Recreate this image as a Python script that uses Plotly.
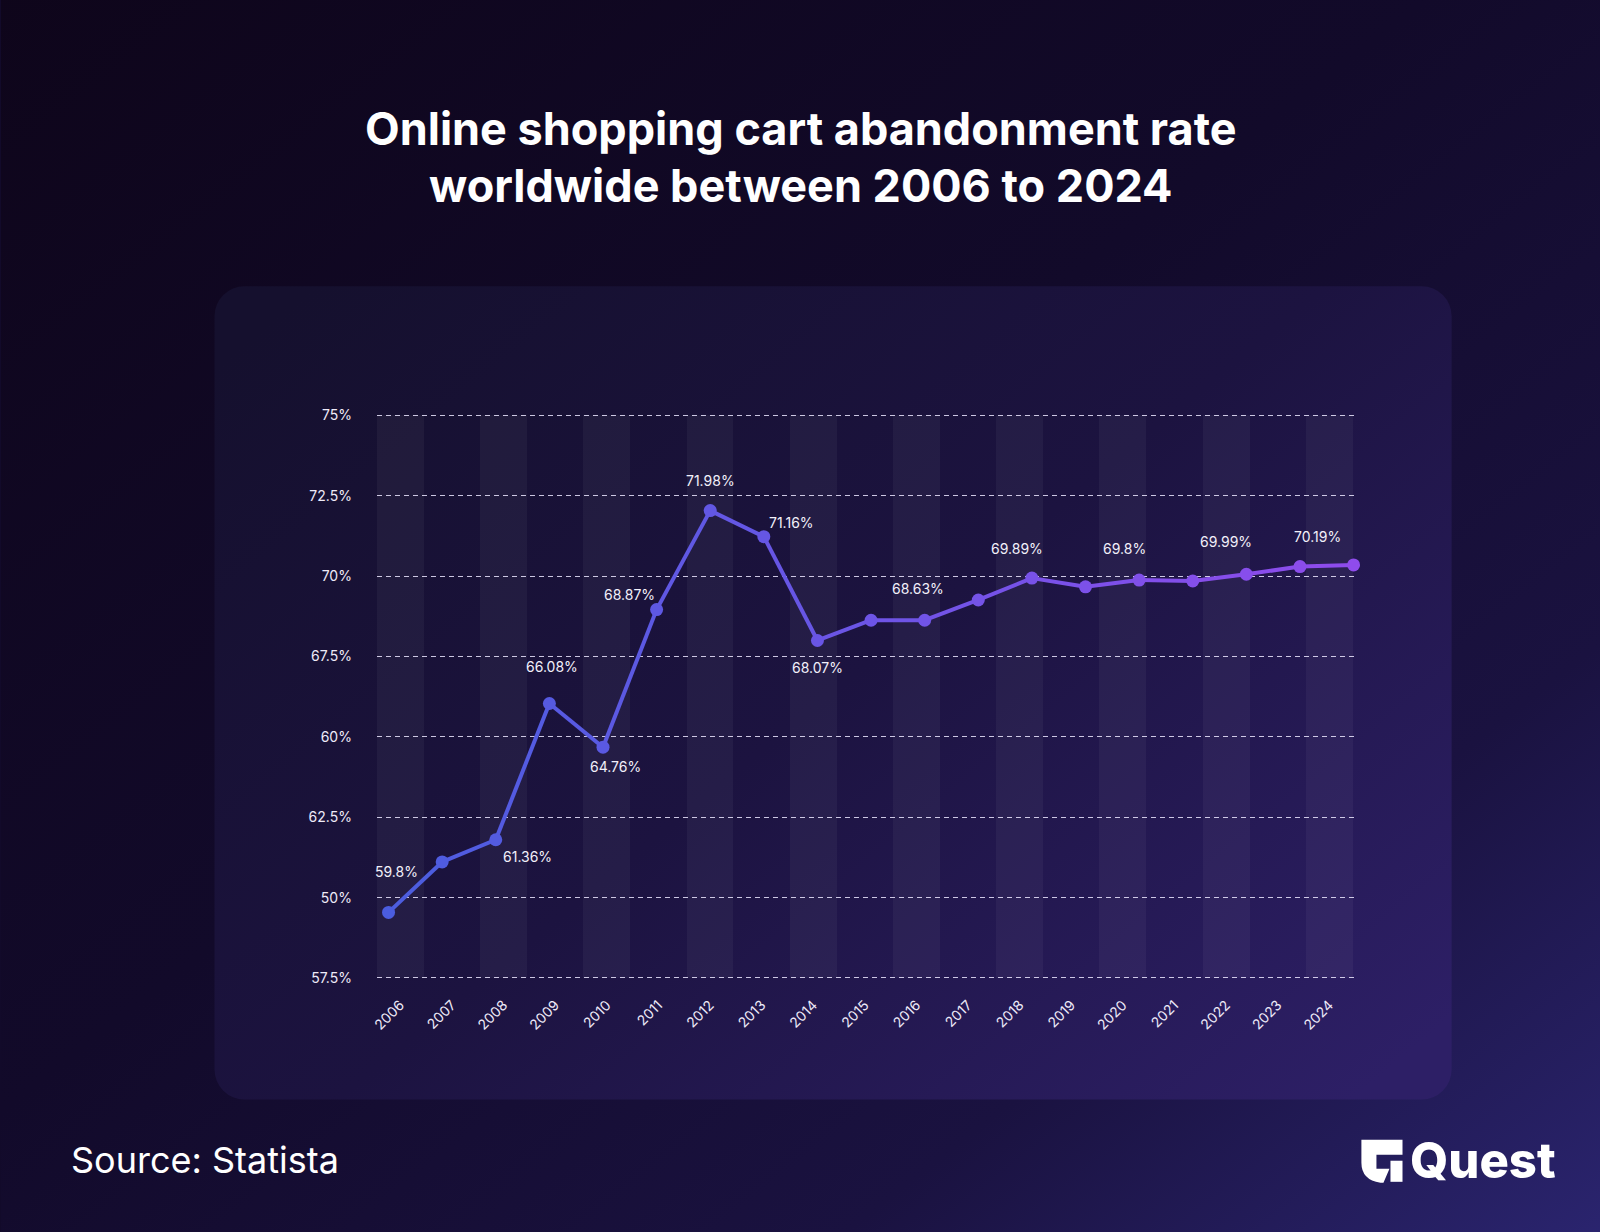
import base64
import plotly.graph_objects as go

# ---------------- data ----------------
years = list(range(2006, 2025))
values = [59.54, 61.11, 61.80, 66.04, 64.68, 68.96, 72.04, 71.23, 68.00, 68.63,
          68.63, 69.26, 69.94, 69.67, 69.88, 69.85, 70.06, 70.30, 70.35]
label_text = ["59.8%", None, "61.36%", "66.08%", "64.76%", "68.87%", "71.98%", "71.16%",
              "68.07%", None, "68.63%", None, "69.89%", None, "69.8%", None, "69.99%",
              "70.19%", None]
ytick_vals = [57.5, 60, 62.5, 65, 67.5, 70, 72.5, 75]
ytick_text = ["57.5%", "50%", "62.5%", "60%", "67.5%", "70%", "72.5%", "75%"]

# label offsets in pixels (xshift, yshift) – styling only
label_offsets = {2006: (8, 41), 2008: (32, -17), 2009: (3, 37), 2010: (12, -19),
                 2011: (-27, 15), 2012: (0, 30), 2013: (28, 14), 2014: (0, -27),
                 2016: (-7, 32), 2018: (-15, 30), 2020: (-15, 32), 2022: (-20, 33),
                 2023: (18, 30)}

W, H = 1600, 1232
FONT = "Inter"
Y_MIN, Y_MAX = 57.5, 75

# the renderer insets the paper area slightly; map page pixels to paper fractions
PAD_X, PAD_Y = 5.0, 8.0
PW, PH = W - 2 * PAD_X, H - 2 * PAD_Y


def fx(px):
    return (px - PAD_X) / PW


def fy(py):
    return 1 - (py - PAD_Y) / PH


# ---------------- colours ----------------
c_start = (75, 93, 223)
c_end = (143, 76, 236)


def mix(t):
    r, g, b = (round(a + (b_ - a) * t) for a, b_ in zip(c_start, c_end))
    return f"rgb({r},{g},{b})"


n = len(years)
pt_colors = [mix(i / (n - 1)) for i in range(n)]

# ---------------- background (decorative SVG) ----------------
svg = f'''<svg xmlns="http://www.w3.org/2000/svg" width="{W}" height="{H}" viewBox="0 0 {W} {H}" preserveAspectRatio="none">
<defs>
<linearGradient id="bg" x1="0" y1="0" x2="1" y2="1">
<stop offset="0" stop-color="#0e051a"/>
<stop offset="0.45" stop-color="#120a2a"/>
<stop offset="0.75" stop-color="#1a1240"/>
<stop offset="1" stop-color="#2c2673"/>
</linearGradient>
<linearGradient id="pn" x1="0" y1="0.1" x2="1" y2="0.9">
<stop offset="0" stop-color="#15102e"/>
<stop offset="0.5" stop-color="#1c1340"/>
<stop offset="1" stop-color="#2d1f66"/>
</linearGradient>
</defs>
<rect x="-30" y="-30" width="{W + 60}" height="{H + 60}" fill="url(#bg)"/>
<rect x="213" y="287" width="1234" height="810" rx="30" ry="30" fill="url(#pn)"/>
<path d="M1357,1137 H1398 V1152 H1372 V1166 H1385 L1379,1180 H1376 Q1357,1177 1357,1160 Z" fill="white"/>
<path d="M1386,1158 H1398 V1179 H1386 Z" fill="white"/>
</svg>'''
bg_uri = "data:image/svg+xml;base64," + base64.b64encode(svg.encode()).decode()

fig = go.Figure()

# alternating stripes (every second year)
stripe_idx = [i for i in range(n) if i % 2 == 0]
fig.add_trace(go.Bar(
    x=stripe_idx, y=[Y_MAX - Y_MIN] * len(stripe_idx), base=Y_MIN, width=0.907,
    marker=dict(color="rgba(255,255,255,0.045)", line=dict(width=0)),
    xaxis="x", yaxis="y", hoverinfo="skip", showlegend=False))

# line segments with a colour gradient
for i in range(n - 1):
    fig.add_trace(go.Scatter(
        x=years[i:i + 2], y=values[i:i + 2], mode="lines",
        line=dict(color=mix((i + 0.5) / (n - 1)), width=4),
        xaxis="x2", yaxis="y", hoverinfo="skip", showlegend=False, cliponaxis=False))

fig.add_trace(go.Scatter(
    x=years, y=values, mode="markers",
    marker=dict(color=pt_colors, size=13, line=dict(width=0)),
    xaxis="x2", yaxis="y", showlegend=False, cliponaxis=False))

annotations = []
for yr, v, t in zip(years, values, label_text):
    if t is None:
        continue
    dx, dy = label_offsets.get(yr, (0, 30))
    annotations.append(dict(x=yr, y=v, xref="x2", yref="y", text=t, showarrow=False,
                            xshift=dx, yshift=dy, font=dict(family=FONT, size=14, color="#f2f0fa")))

annotations += [
    dict(text="Online shopping cart abandonment rate", x=fx(798), y=fy(130), xref="paper", yref="paper",
         xanchor="center", yanchor="middle", showarrow=False,
         font=dict(family=FONT, size=45, color="white", weight=700)),
    dict(text="worldwide between 2006 to 2024", x=fx(798), y=fy(187), xref="paper", yref="paper",
         xanchor="center", yanchor="middle", showarrow=False,
         font=dict(family=FONT, size=45, color="white", weight=700)),
    dict(text="Source: Statista", x=fx(68), y=fy(1157), xref="paper", yref="paper",
         xanchor="left", yanchor="middle", showarrow=False,
         font=dict(family=FONT, size=36, color="white")),
    dict(text="Quest", x=fx(1553), y=fy(1158), xref="paper", yref="paper",
         xanchor="right", yanchor="middle", showarrow=False,
         font=dict(family=FONT, size=49, color="white", weight=800)),
]

px_l, px_r = 375.0, 1350.0
py_t, py_b = 412.6, 979.2

fig.update_layout(
    width=W, height=H, margin=dict(l=0, r=0, t=0, b=0, pad=0),
    paper_bgcolor="#120a2a", plot_bgcolor="rgba(0,0,0,0)",
    images=[dict(source=bg_uri, xref="paper", yref="paper", x=fx(0), y=fy(0),
                 sizex=W / PW, sizey=H / PH,
                 xanchor="left", yanchor="top", sizing="stretch", layer="below")],
    xaxis=dict(domain=[fx(px_l), fx(px_r)], range=[-0.453, 18.487],
               tickvals=list(range(n)), ticktext=[str(y) for y in years], tickangle=-45,
               showgrid=False, zeroline=False, showline=False, ticks="",
               tickfont=dict(family=FONT, size=14, color="#eeeaf8"), ticklabelstandoff=12,
               fixedrange=True),
    xaxis2=dict(overlaying="x", anchor="y", range=[2005.7834, 2024.015], visible=False,
                fixedrange=True),
    yaxis=dict(domain=[fy(py_b), fy(py_t)], range=[57.4, 75.1],
               tickvals=ytick_vals, ticktext=ytick_text, showgrid=True,
               gridcolor="rgba(235,230,255,0.85)", griddash="5px,4px", gridwidth=1.2,
               zeroline=False, showline=False, ticks="",
               tickfont=dict(family=FONT, size=14, color="#eeeaf8"), ticklabelstandoff=24,
               fixedrange=True),
    annotations=annotations,
    bargap=0, showlegend=False,
)

fig.write_html("out.html", config={"displayModeBar": False})
